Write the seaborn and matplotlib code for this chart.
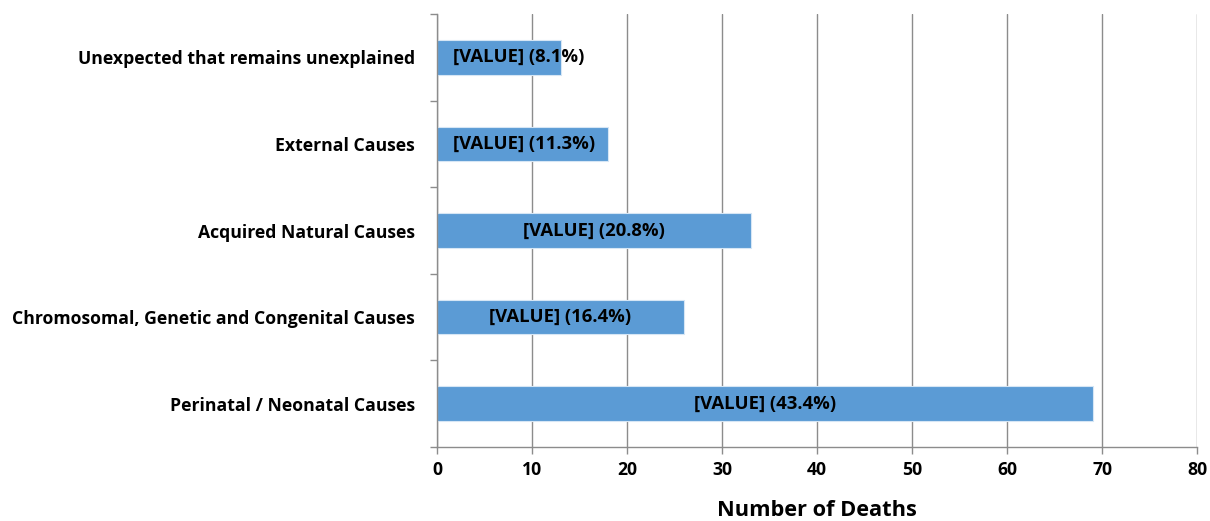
import matplotlib
matplotlib.use("Agg")
import matplotlib.pyplot as plt
import seaborn as sns
import pandas as pd
import numpy as np

categories = [
    "Unexpected that remains unexplained",
    "External Causes",
    "Acquired Natural Causes",
    "Chromosomal, Genetic and Congenital Causes",
    "Perinatal / Neonatal Causes",
]
deaths = [13, 18, 33, 26, 69]
percent_labels = ["8.1%", "11.3%", "20.8%", "16.4%", "43.4%"]
x_ticks = [0, 10, 20, 30, 40, 50, 60, 70, 80]

sns.set_theme(style="white")
plt.rcParams["font.family"] = ["Open Sans", "DejaVu Sans"]
plt.rcParams["font.weight"] = "bold"
plt.rcParams["text.color"] = "black"
plt.rcParams["xtick.labelcolor"] = "black"
plt.rcParams["ytick.labelcolor"] = "black"
plt.rcParams["axes.labelcolor"] = "black"

df = pd.DataFrame({"cause": categories, "deaths": deaths})

fig = plt.figure(figsize=(12.1, 5.21), dpi=100)
ax = fig.add_axes([0.3612, 0.142, 0.6281, 0.8311])

sns.barplot(data=df, y="cause", x="deaths", orient="h", color="#5B9BD5",
            saturation=1, width=0.4, edgecolor="#D6E6F5", linewidth=0.8, ax=ax)

ax.set_xlim(0, 80)
ax.set_ylim(len(categories) - 0.5, -0.5)
ax.set_xticks(x_ticks)
ax.set_xticklabels([str(t) for t in x_ticks], fontsize=12.7, fontweight="bold")
ax.xaxis.grid(True, color="#8C8C8C", linewidth=1.0)
ax.set_axisbelow(True)

ax.set_yticks(range(len(categories)))
ax.set_yticklabels(categories, fontsize=12.7, fontweight="bold")
ax.set_yticks(np.arange(-0.5, len(categories), 1.0), minor=True)
ax.tick_params(axis="y", which="major", length=0, pad=16)
ax.tick_params(axis="y", which="minor", length=5, width=1, color="#8C8C8C", left=True)
ax.tick_params(axis="x", which="major", length=5, width=1, color="#8C8C8C",
               bottom=True, pad=5)

ax.set_xlabel("Number of Deaths", fontsize=15.7, fontweight="bold", labelpad=15)
ax.set_ylabel("")

for side in ["top", "right"]:
    ax.spines[side].set_visible(False)
for side in ["left", "bottom"]:
    ax.spines[side].set_color("#8C8C8C")
    ax.spines[side].set_linewidth(1.0)

# Value labels: centred in the bar, pushed right when the bar is too short
fig.canvas.draw()
renderer = fig.canvas.get_renderer()
inv = ax.transData.inverted()
for i, (v, p) in enumerate(zip(deaths, percent_labels)):
    t = ax.text(v / 2, i, f"[VALUE] ({p})", ha="center", va="center",
                fontsize=13.3, fontweight="bold", color="black")
    bb = t.get_window_extent(renderer)
    x0 = inv.transform((bb.x0, 0))[0]
    x1 = inv.transform((bb.x1, 0))[0]
    w = x1 - x0
    cx = max(v / 2, 1.7 + w / 2)
    t.set_x(cx)

fig.savefig("out.png", dpi=100)
